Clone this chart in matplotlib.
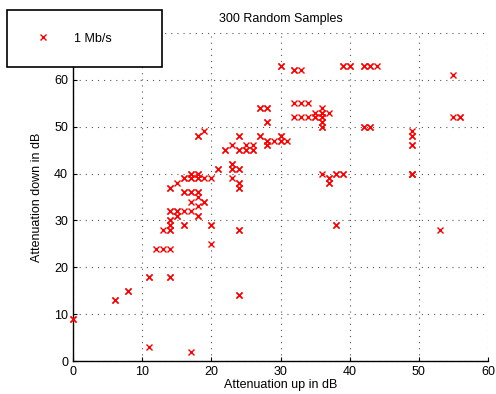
import matplotlib
matplotlib.use("Agg")
import matplotlib.pyplot as plt

plt.rcParams['font.family'] = ['Liberation Sans', 'DejaVu Sans']

title = "300 Random Samples"
x_label = "Attenuation up in dB"
y_label = "Attenuation down in dB"
series_name = "1 Mb/s"
x_ticks = [0, 10, 20, 30, 40, 50, 60]
y_ticks = [0, 10, 20, 30, 40, 50, 60, 70]

points = [
    (0, 9), (0, 9), (6, 13), (6, 13), (8, 15), (8, 15), (11, 18), (11, 18),
    (11, 3), (17, 2), (14, 18), (14, 18),
    (12, 24), (13, 24), (14, 24), (13, 28),
    (14, 28), (14, 28), (14, 29), (14, 29), (14, 30), (14, 30),
    (14, 32), (14, 32), (15, 32), (15, 32), (15, 31), (15, 31),
    (16, 32), (17, 32), (16, 29), (16, 29), (17, 34),
    (18, 33), (18, 31), (18, 31), (18, 35), (19, 34), (19, 34),
    (20, 29), (20, 29), (20, 25),
    (14, 37), (14, 37), (15, 38),
    (16, 36), (16, 36), (17, 36), (17, 36), (18, 36), (18, 36),
    (16, 39), (16, 39), (17, 39), (17, 39), (18, 39), (18, 39), (19, 39), (20, 39),
    (17, 40), (17, 40), (18, 40), (18, 40),
    (18, 48), (18, 48), (19, 49), (21, 41), (21, 41),
    (22, 45), (22, 45), (23, 46), (24, 45), (24, 45), (25, 45), (25, 45),
    (26, 45), (26, 45), (25, 46), (26, 46),
    (23, 42), (23, 42), (23, 41), (23, 41), (23, 39), (24, 41), (24, 41),
    (24, 38), (24, 38), (24, 37), (24, 37), (24, 48), (24, 48),
    (24, 28), (24, 28), (24, 14), (24, 14),
    (27, 48), (27, 48), (27, 54), (27, 54), (28, 54), (28, 54), (28, 51), (28, 51),
    (28, 46), (28, 46), (28, 47), (28, 47), (29, 47), (30, 47), (30, 47),
    (30, 48), (30, 48), (31, 47),
    (30, 63), (30, 63), (32, 62), (32, 62), (33, 62),
    (32, 55), (33, 55), (34, 55),
    (32, 52), (33, 52), (34, 52), (35, 52), (35, 52), (35, 53),
    (36, 54), (36, 53), (36, 53), (36, 52), (36, 52), (36, 51), (36, 51),
    (36, 50), (36, 50), (37, 53),
    (36, 40), (37, 39), (37, 39), (37, 38), (37, 38), (38, 29), (38, 29),
    (38, 40), (38, 40), (39, 40), (39, 40),
    (39, 63), (39, 63), (40, 63), (40, 63), (42, 63), (42, 63), (43, 63), (43, 63), (44, 63),
    (42, 50), (42, 50), (43, 50), (43, 50),
    (49, 49), (49, 48), (49, 48), (49, 46), (49, 46), (49, 40), (49, 40), (49, 40),
    (53, 28), (55, 61), (55, 52), (56, 52), (56, 52),
]
up_db = [p[0] for p in points]
down_db = [p[1] for p in points]

fig = plt.figure(figsize=(4.96, 3.94), dpi=100)
ax = fig.add_axes([73 / 496, 1 - 361 / 394, (488 - 73) / 496, (361 - 33) / 394])

ax.plot(up_db, down_db, linestyle='none', marker='x', color='red',
        markersize=5, markeredgewidth=1.0, label=series_name, zorder=3,
        clip_on=False)

ax.set_xlim(0, 60)
ax.set_ylim(0, 70)
ax.set_xticks(x_ticks)
ax.set_yticks(y_ticks)
ax.grid(True, color='#555555', linestyle=(0, (1, 4.5)), linewidth=0.8)
for s in ['top', 'right']:
    ax.spines[s].set_visible(False)
for s in ['left', 'bottom']:
    ax.spines[s].set_linewidth(1.0)
ax.tick_params(direction='in', length=3, labelsize=9, width=0.8)

ax.set_title(title, fontsize=9, pad=8)
ax.set_xlabel(x_label, fontsize=9, labelpad=1)
ax.set_ylabel(y_label, fontsize=9, labelpad=8)

leg = ax.legend(loc='upper left', bbox_to_anchor=(7 / 496, 1 - 10 / 394, 155 / 496, 0.0),
                bbox_transform=fig.transFigure, mode='expand', borderaxespad=0,
                fontsize=9, borderpad=1.8, handlelength=2.2, handletextpad=1.4,
                fancybox=False, framealpha=1, edgecolor='black')
leg.get_frame().set_linewidth(1.2)
leg.set_zorder(5)

fig.savefig("out.png", dpi=100)
